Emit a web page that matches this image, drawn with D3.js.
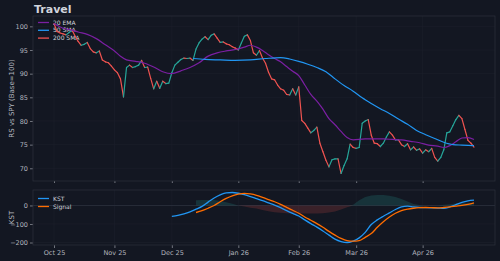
<!DOCTYPE html>
<html>
<head>
<meta charset="utf-8">
<script src="https://cdn.jsdelivr.net/npm/d3@7"></script>
<style>
  body { margin: 0; background: #131722; }
  text { font-family: "DejaVu Sans", sans-serif; }
</style>
</head>
<body>
<div id="chart"></div>
<script>
// RS vs SPY, one value per trading day (Base=100)
var price = [
  100.6, 98.9, 98.6, 98.4, 98.2, 98.7, 99.2, 97.9, 96.8, 96.0,
  96.2, 96.6, 95.3, 94.6, 94.4, 94.8, 92.9, 92.5, 92.3, 91.6,
  90.8, 90.2, 88.9, 85.1, 91.3, 91.8, 91.3, 91.5, 91.8, 92.8,
  91.3, 91.4, 89.0, 86.8, 88.4, 86.9, 88.4, 87.9, 88.0, 90.2,
  91.8, 92.4, 93.0, 93.3, 93.2, 93.3, 92.8, 95.2, 96.5, 97.3,
  97.8, 97.2, 98.1, 98.4, 97.5, 96.6, 96.7, 96.3, 96.1, 95.7,
  95.4, 95.0, 96.5, 97.9, 98.2, 97.0, 94.4, 93.9, 94.9, 93.3,
  92.2, 90.3, 88.9, 88.7, 87.6, 86.8, 86.5, 85.6, 85.5, 86.8,
  85.5, 87.2, 80.1, 79.5, 78.5, 77.5, 78.0, 78.7, 75.3, 73.5,
  71.7, 70.3, 71.8, 72.0, 72.0, 68.9, 70.6, 72.0, 75.1, 74.4,
  74.2, 74.4, 79.5, 80.0, 80.3, 77.0, 75.3, 75.2, 74.6, 75.3,
  76.6, 77.7, 77.0, 76.0, 76.0, 75.0, 74.6, 75.2, 73.9, 74.5,
  73.8, 74.1, 73.2, 73.9, 73.5, 74.2, 72.3, 71.5, 72.3, 73.9,
  77.5, 77.7, 79.0, 80.3, 81.2, 80.5, 78.2, 75.9, 75.3, 74.5
];

// [day, value]
var ema20 = [
  [0, 100.6], [3, 99.6], [6, 99.2], [8, 98.8], [11, 98.3], [14, 97.4], [17, 96.1],
  [20, 94.8], [22, 93.7], [24, 92.9], [27, 92.6], [30, 92.2], [33, 91.4], [36, 90.4],
  [39, 90.0], [42, 90.6], [45, 91.3], [48, 92.3], [51, 93.7], [54, 94.4], [57, 94.8],
  [60, 95.1], [63, 95.6], [65, 96.0], [67, 95.6], [69, 94.9], [71, 94.0], [73, 93.2],
  [75, 92.5], [77, 91.5], [79, 90.5], [81, 89.6], [83, 87.6], [85, 85.6], [87, 84.2],
  [89, 82.5], [91, 80.5], [93, 79.2], [95, 77.8], [97, 76.5], [99, 76.0], [103, 76.2],
  [106, 76.2], [109, 76.2], [112, 76.1], [115, 76.0], [118, 75.7], [121, 75.4],
  [124, 74.9], [127, 74.7], [129, 74.4], [131, 74.8], [133, 75.6], [135, 76.4],
  [137, 76.5], [139, 76.1]
];

var sma50 = [
  [46, 93.2], [50, 93.0], [55, 92.9], [60, 92.8], [65, 92.9], [70, 93.2], [75, 93.4],
  [78, 93.1], [81, 92.6], [84, 92.0], [87, 91.3], [90, 90.4], [93, 88.9], [96, 87.5],
  [99, 86.3], [102, 84.9], [105, 83.7], [108, 82.6], [111, 81.6], [114, 80.4],
  [117, 79.3], [120, 78.0], [123, 77.1], [126, 76.3], [129, 75.5], [132, 75.0],
  [135, 74.9], [139, 74.8]
];

var kst = [
  [39, -59], [41, -54], [43, -46], [45, -35], [47, -20], [49, -5], [51, 18], [53, 40],
  [55, 57], [57, 68], [59, 70], [61, 66], [63, 58], [65, 48], [67, 37], [69, 26],
  [71, 14], [73, 2], [75, -12], [77, -28], [79, -43], [81, -57], [83, -78], [85, -98],
  [87, -117], [89, -138], [91, -160], [93, -182], [95, -195], [97, -200], [99, -192],
  [101, -175], [103, -145], [105, -103], [107, -78], [109, -58], [111, -40], [113, -22],
  [115, -8], [117, -4], [119, -8], [121, -11], [123, -12], [125, -13], [127, -14],
  [129, -16], [131, -8], [133, 5], [135, 17], [137, 25], [139, 29]
];

var signal = [
  [47, -38], [49, -28], [51, -15], [53, 0], [55, 20], [57, 38], [59, 52], [61, 61],
  [63, 65], [65, 62], [67, 55], [69, 44], [71, 32], [73, 20], [75, 6], [77, -10],
  [79, -26], [81, -42], [83, -62], [85, -80], [87, -98], [89, -118], [91, -140],
  [93, -160], [95, -178], [97, -190], [99, -193], [101, -190], [103, -172], [105, -152],
  [107, -118], [109, -88], [111, -62], [113, -42], [115, -28], [117, -20], [119, -15],
  [121, -12], [123, -11], [125, -12], [127, -13], [129, -11], [131, -8], [133, -4],
  [135, 0], [137, 6], [139, 14]
];

var hist = [
  [47, 28], [49, 30], [51, 30], [53, 30], [55, 24], [57, 17], [59, 9], [61, 0],
  [63, -6], [65, -12], [67, -17], [69, -24], [71, -31], [73, -36], [75, -40], [77, -42],
  [79, -43], [81, -43], [83, -43], [85, -43], [87, -43], [89, -42], [91, -38], [93, -33],
  [95, -22], [97, -10], [99, 4], [101, 28], [103, 46], [105, 54], [107, 56], [109, 56],
  [111, 53], [113, 46], [115, 35], [117, 22], [119, 8], [121, 2], [123, 0], [125, -2],
  [127, 0], [129, 4], [131, 7], [133, 10], [135, 12], [137, 12], [139, 12]
];

var tickDays = [0, 20, 39, 61, 81, 100, 122];
var tickLabels = ["Oct 25", "Nov 25", "Dec 25", "Jan 26", "Feb 26", "Mar 26", "Apr 26"];
var rsTicks = [70, 75, 80, 85, 90, 95, 100];
var kstTicks = [-200, -100, 0];

var bg = "#131722", spine = "#2a2e39", grid = "#1c202b", txt = "#b2b5be";
var up = "#26a69a", down = "#ef5350";

var width = 500, height = 261;
var left = 33, right = 495;
var top1 = 16, bot1 = 181, top2 = 190, bot2 = 245;

var svg = d3.select("#chart")
  .append("svg")
    .attr("width", width)
    .attr("height", height)
    .style("background", bg);

// padded like matplotlib (5% each side)
var n = price.length - 1;
var x = d3.scaleLinear()
  .domain([-0.05 * n, n * 1.05])
  .range([left, right]);

var all = price.concat(ema20.map(d => d[1]), sma50.map(d => d[1]));
var ext = d3.extent(all);
var pad = (ext[1] - ext[0]) * 0.05;
var y = d3.scaleLinear()
  .domain([ext[0] - pad, ext[1] + pad])
  .range([bot1, top1]);

var kall = kst.concat(signal, hist).map(d => d[1]);
var kext = d3.extent(kall);
var kpad = (kext[1] - kext[0]) * 0.05;
var yk = d3.scaleLinear()
  .domain([kext[0] - kpad, kext[1] + kpad])
  .range([bot2, top2]);

// title
svg.append("text")
  .attr("x", 34)
  .attr("y", 13)
  .attr("fill", "#d1d4dc")
  .style("font-size", "11px")
  .style("font-weight", "bold")
  .text("Travel");

// grid
function grids(yScale, yt, t, b) {
  var g = svg.append("g");
  g.selectAll(".gx").data(tickDays).enter().append("line")
    .attr("x1", d => x(d)).attr("x2", d => x(d))
    .attr("y1", t).attr("y2", b)
    .attr("stroke", grid).attr("stroke-width", 0.6);
  g.selectAll(".gy").data(yt).enter().append("line")
    .attr("x1", left).attr("x2", right)
    .attr("y1", d => yScale(d)).attr("y2", d => yScale(d))
    .attr("stroke", grid).attr("stroke-width", 0.6);
}
grids(y, rsTicks, top1, bot1);
grids(yk, kstTicks, top2, bot2);

// zero line in kst panel
svg.append("line")
  .attr("x1", left).attr("x2", right)
  .attr("y1", yk(0)).attr("y2", yk(0))
  .attr("stroke", "#2e3340").attr("stroke-width", 0.7);

// axes
function styleAxis(g) {
  g.select(".domain").remove();
  g.selectAll(".tick line").attr("stroke", txt).attr("stroke-width", 0.6);
  g.selectAll(".tick text").attr("fill", txt).style("font-size", "6.5px")
    .style("font-family", "DejaVu Sans, sans-serif");
}

svg.append("g")
  .attr("transform", "translate(" + left + ",0)")
  .call(d3.axisLeft(y).tickValues(rsTicks).tickSize(3).tickPadding(2).tickFormat(d3.format("d")))
  .call(styleAxis);

svg.append("g")
  .attr("transform", "translate(" + left + ",0)")
  .call(d3.axisLeft(yk).tickValues(kstTicks).tickSize(3).tickPadding(2).tickFormat(d3.format("d")))
  .call(styleAxis);

svg.append("g")
  .attr("transform", "translate(0," + bot1 + ")")
  .call(d3.axisBottom(x).tickValues(tickDays).tickSize(2).tickFormat(""))
  .call(styleAxis);

svg.append("g")
  .attr("transform", "translate(0," + bot2 + ")")
  .call(d3.axisBottom(x).tickValues(tickDays).tickSize(3).tickPadding(2)
    .tickFormat((d, i) => tickLabels[i]))
  .call(styleAxis);

// axis labels
svg.append("text")
  .attr("transform", "translate(14," + ((top1 + bot1) / 2) + ") rotate(-90)")
  .attr("text-anchor", "middle")
  .attr("fill", txt)
  .style("font-size", "7px")
  .text("RS vs SPY (Base=100)");

svg.append("text")
  .attr("transform", "translate(14," + ((top2 + bot2) / 2) + ") rotate(-90)")
  .attr("text-anchor", "middle")
  .attr("fill", txt)
  .style("font-size", "7px")
  .text("KST");

// legends (drawn under the lines, like the reference)
function legend(items, x0, y0, step) {
  var g = svg.append("g");
  items.forEach(function(it, i) {
    g.append("line")
      .attr("x1", x0).attr("x2", x0 + 11)
      .attr("y1", y0 + i * step).attr("y2", y0 + i * step)
      .attr("stroke", it[1]).attr("stroke-width", 1.3);
    g.append("text")
      .attr("x", x0 + 15).attr("y", y0 + i * step + 2)
      .attr("fill", "#d1d4dc")
      .style("font-size", "6px")
      .text(it[0]);
  });
}
legend([["20 EMA", "#7b1fa2"], ["50 SMA", "#2196f3"], ["200 SMA", down]], 38, 22.5, 7.8);
legend([["KST", "#2196f3"], ["Signal", "#ff6d00"]], 38, 198.5, 8);

// histogram fill
var areaPos = d3.area()
  .x(d => x(d[0])).y0(yk(0)).y1(d => yk(Math.max(d[1], 0)));
var areaNeg = d3.area()
  .x(d => x(d[0])).y0(yk(0)).y1(d => yk(Math.min(d[1], 0)));
svg.append("path").attr("d", areaPos(hist)).attr("fill", up).attr("opacity", 0.2);
svg.append("path").attr("d", areaNeg(hist)).attr("fill", down).attr("opacity", 0.18);

// price, coloured per day
var segs = d3.range(1, price.length);
svg.append("g").selectAll("line")
  .data(segs)
  .enter()
  .append("line")
    .attr("x1", i => x(i - 1)).attr("y1", i => y(price[i - 1]))
    .attr("x2", i => x(i)).attr("y2", i => y(price[i]))
    .attr("stroke", i => price[i] >= price[i - 1] ? up : down)
    .attr("stroke-width", 1.2)
    .attr("stroke-linecap", "round");

var ln = d3.line().x(d => x(d[0])).y(d => y(d[1])).curve(d3.curveMonotoneX);
svg.append("path").attr("d", ln(ema20)).attr("fill", "none")
  .attr("stroke", "#7b1fa2").attr("stroke-width", 1.2);
svg.append("path").attr("d", ln(sma50)).attr("fill", "none")
  .attr("stroke", "#2196f3").attr("stroke-width", 1.2);

var lk = d3.line().x(d => x(d[0])).y(d => yk(d[1])).curve(d3.curveMonotoneX);
svg.append("path").attr("d", lk(kst)).attr("fill", "none")
  .attr("stroke", "#2196f3").attr("stroke-width", 1.3);
svg.append("path").attr("d", lk(signal)).attr("fill", "none")
  .attr("stroke", "#ff6d00").attr("stroke-width", 1.3);

// panel borders
[[top1, bot1], [top2, bot2]].forEach(function(p) {
  svg.append("rect")
    .attr("x", left).attr("y", p[0])
    .attr("width", right - left).attr("height", p[1] - p[0])
    .attr("fill", "none").attr("stroke", spine).attr("stroke-width", 0.8);
});
</script>
</body>
</html>
